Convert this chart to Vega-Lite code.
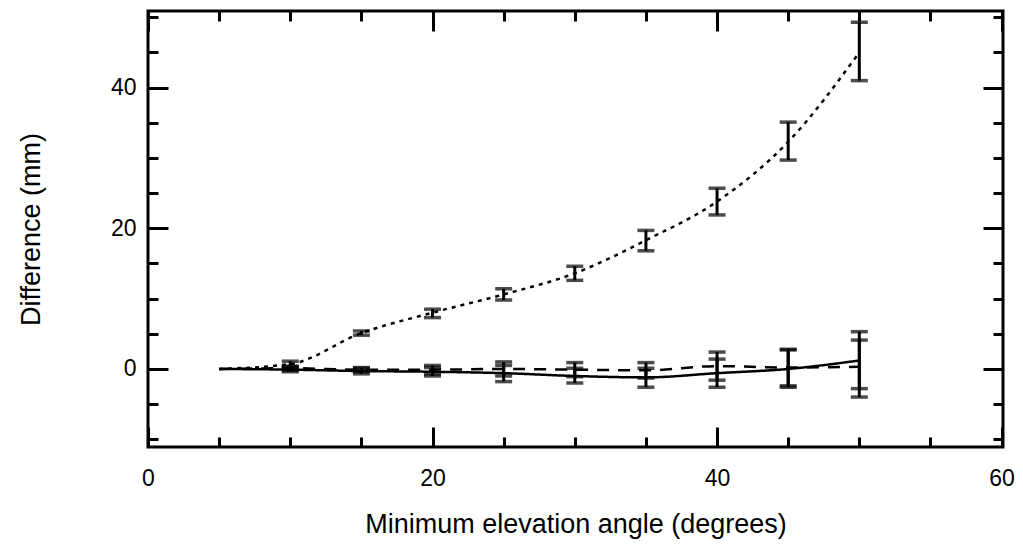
{
  "$schema": "https://vega.github.io/schema/vega-lite/v6.json",
  "width": 855,
  "height": 436,
  "autosize": {"type": "none"},
  "padding": {"left": 148, "top": 11, "right": 20, "bottom": 103},
  "background": "white",
  "config": {
    "view": {"stroke": "black", "strokeWidth": 3},
    "axis": {
      "domain": false,
      "grid": false,
      "tickColor": "black",
      "tickWidth": 3,
      "labelColor": "black",
      "labelFont": "Liberation Sans",
      "labelFontSize": 23,
      "titleFont": "Liberation Sans",
      "titleFontSize": 27,
      "titleFontWeight": "normal",
      "titleColor": "black",
      "labelFlush": false,
      "labelOverlap": false
    }
  },
  "data": {
    "values": [
      {"series": "T", "angle": 5, "diff": 0, "lo": null, "hi": null},
      {"series": "T", "angle": 10, "diff": 0.7, "lo": 0.3, "hi": 1.1},
      {"series": "T", "angle": 15, "diff": 5.1, "lo": 4.8, "hi": 5.4},
      {"series": "T", "angle": 20, "diff": 8.0, "lo": 7.3, "hi": 8.5},
      {"series": "T", "angle": 25, "diff": 10.6, "lo": 9.8, "hi": 11.4},
      {"series": "T", "angle": 30, "diff": 13.6, "lo": 12.6, "hi": 14.6},
      {"series": "T", "angle": 35, "diff": 18.3, "lo": 16.8, "hi": 19.7},
      {"series": "T", "angle": 40, "diff": 23.8, "lo": 21.9, "hi": 25.7},
      {"series": "T", "angle": 45, "diff": 32.3, "lo": 29.7, "hi": 35.1},
      {"series": "T", "angle": 50, "diff": 45.0, "lo": 41.0, "hi": 49.3},
      {"series": "S", "angle": 5, "diff": 0, "lo": null, "hi": null},
      {"series": "S", "angle": 10, "diff": -0.1, "lo": -0.4, "hi": 0.2},
      {"series": "S", "angle": 15, "diff": -0.3, "lo": -0.7, "hi": 0.1},
      {"series": "S", "angle": 20, "diff": -0.4, "lo": -1.0, "hi": 0.2},
      {"series": "S", "angle": 25, "diff": -0.6, "lo": -1.8, "hi": 0.5},
      {"series": "S", "angle": 30, "diff": -1.0, "lo": -2.0, "hi": 0.1},
      {"series": "S", "angle": 35, "diff": -1.2, "lo": -2.6, "hi": 0.1},
      {"series": "S", "angle": 40, "diff": -0.6, "lo": -2.6, "hi": 1.4},
      {"series": "S", "angle": 45, "diff": 0.0, "lo": -2.6, "hi": 2.8},
      {"series": "S", "angle": 50, "diff": 1.2, "lo": -2.8, "hi": 5.3},
      {"series": "D", "angle": 5, "diff": 0, "lo": null, "hi": null},
      {"series": "D", "angle": 10, "diff": 0.1, "lo": -0.2, "hi": 0.4},
      {"series": "D", "angle": 15, "diff": -0.1, "lo": -0.4, "hi": 0.2},
      {"series": "D", "angle": 20, "diff": -0.1, "lo": -0.7, "hi": 0.5},
      {"series": "D", "angle": 25, "diff": 0.0, "lo": -1.0, "hi": 1.0},
      {"series": "D", "angle": 30, "diff": -0.1, "lo": -1.1, "hi": 0.9},
      {"series": "D", "angle": 35, "diff": -0.2, "lo": -1.3, "hi": 0.9},
      {"series": "D", "angle": 40, "diff": 0.4, "lo": -1.6, "hi": 2.4},
      {"series": "D", "angle": 45, "diff": 0.2, "lo": -2.4, "hi": 2.7},
      {"series": "D", "angle": 50, "diff": 0.3, "lo": -4.0, "hi": 4.1}
    ]
  },
  "layer": [
    {
      "mark": {"type": "line", "color": "black", "strokeWidth": 2.5, "interpolate": "monotone"},
      "encoding": {
        "x": {
          "field": "angle", "type": "quantitative",
          "scale": {"domain": [0, 60.1], "nice": false, "zero": false},
          "axis": {
            "orient": "bottom",
            "values": [0, 5, 10, 15, 20, 25, 30, 35, 40, 45, 50, 55, 60],
            "tickSize": {"condition": {"test": "datum.value % 20 === 0", "value": -20}, "value": -10},
            "labelExpr": "datum.value % 20 === 0 ? datum.label : ''",
            "labelPadding": 40,
            "title": "Minimum elevation angle (degrees)",
            "titleY": 77,
            "titleBaseline": "middle"
          }
        },
        "y": {
          "field": "diff", "type": "quantitative",
          "scale": {"domain": [-11.1, 50.9], "nice": false, "zero": false},
          "axis": {
            "orient": "left",
            "values": [-10, -5, 0, 5, 10, 15, 20, 25, 30, 35, 40, 45, 50],
            "tickSize": {"condition": {"test": "datum.value % 20 === 0", "value": -20}, "value": -10},
            "labelExpr": "datum.value % 20 === 0 ? datum.label : ''",
            "labelPadding": 32,
            "title": "Difference (mm)",
            "titleX": -117,
            "titleBaseline": "middle"
          }
        },
        "strokeDash": {
          "field": "series", "type": "nominal",
          "scale": {"domain": ["T", "S", "D"], "range": [[4, 5], [1, 0], [12, 9]]},
          "legend": null
        }
      }
    },
    {
      "mark": {"type": "rule", "color": "black", "strokeWidth": 3},
      "encoding": {
        "x": {"field": "angle", "type": "quantitative", "axis": null},
        "y": {"field": "lo", "type": "quantitative", "axis": null},
        "y2": {"field": "hi"}
      }
    },
    {
      "mark": {"type": "tick", "orient": "horizontal", "color": "black", "size": 17, "thickness": 3.5},
      "encoding": {
        "x": {"field": "angle", "type": "quantitative", "axis": null},
        "y": {"field": "lo", "type": "quantitative", "axis": null}
      }
    },
    {
      "mark": {"type": "tick", "orient": "horizontal", "color": "black", "size": 17, "thickness": 3.5},
      "encoding": {
        "x": {"field": "angle", "type": "quantitative", "axis": null},
        "y": {"field": "hi", "type": "quantitative", "axis": null}
      }
    },
    {
      "mark": {"type": "point", "opacity": 0},
      "encoding": {
        "x": {
          "field": "angle", "type": "quantitative",
          "axis": {
            "orient": "top",
            "values": [0, 5, 10, 15, 20, 25, 30, 35, 40, 45, 50, 55, 60],
            "tickSize": {"condition": {"test": "datum.value % 20 === 0", "value": -20}, "value": -10},
            "labels": false,
            "title": null
          }
        },
        "y": {
          "field": "diff", "type": "quantitative",
          "axis": {
            "orient": "right",
            "values": [-10, -5, 0, 5, 10, 15, 20, 25, 30, 35, 40, 45, 50],
            "tickSize": {"condition": {"test": "datum.value % 20 === 0", "value": -20}, "value": -10},
            "labels": false,
            "title": null
          }
        }
      }
    }
  ],
  "resolve": {"axis": {"x": "independent", "y": "independent"}}
}
